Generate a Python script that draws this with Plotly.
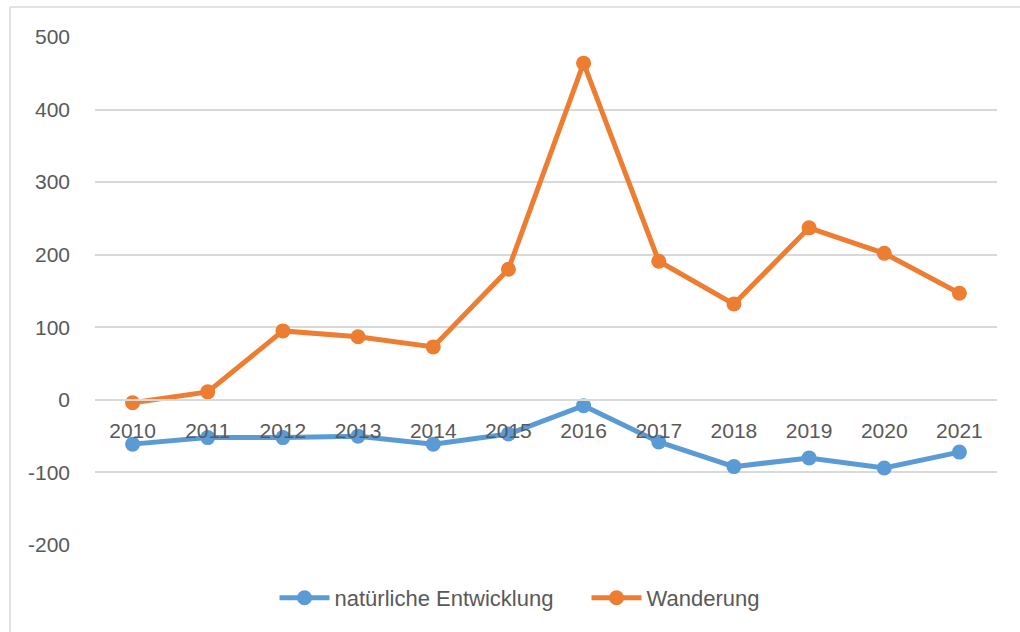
import plotly.graph_objects as go

years = ["2010", "2011", "2012", "2013", "2014", "2015", "2016", "2017", "2018", "2019", "2020", "2021"]
natuerlich = [-61, -52, -52, -50, -61, -47, -8, -58, -92, -80, -94, -72]
wanderung = [-4, 11, 95, 87, 73, 180, 464, 191, 132, 237, 202, 147]
y_ticks = [-200, -100, 0, 100, 200, 300, 400, 500]
y_ticktext = ["-200", "-100", "0", "100", "200", "300", "400", "500"]

W, H = 1020, 632
ml, mr, mt, mb = 95, 23, 37, 87
pw, ph = W - ml - mr, H - mt - mb
ymin, ymax = -200, 500

FONT = "Liberation Sans, Arial, sans-serif"
TXT = "#595959"

fig = go.Figure()
fig.add_trace(go.Scatter(x=years, y=natuerlich, name="natürliche Entwicklung", mode="lines+markers",
                         line=dict(color="#5B9BD5", width=5), marker=dict(size=15, color="#5B9BD5")))
fig.add_trace(go.Scatter(x=years, y=wanderung, name="Wanderung", mode="lines+markers",
                         line=dict(color="#ED7D31", width=5), marker=dict(size=15, color="#ED7D31")))

fig.update_layout(
    width=W, height=H,
    margin=dict(l=ml, r=mr, t=mt, b=mb, autoexpand=False),
    paper_bgcolor="white", plot_bgcolor="white",
    font=dict(family=FONT, size=21, color=TXT),
    xaxis=dict(type="category", anchor="free", position=(0 - ymin) / (ymax - ymin),
               showgrid=False, showline=True, linecolor="#d9d9d9", linewidth=1.5,
               ticks="", ticklabelstandoff=12, tickfont=dict(family=FONT, size=21, color=TXT),
               range=[-0.5, len(years) - 0.5], zeroline=False, automargin=False),
    yaxis=dict(range=[ymin, ymax], tickvals=y_ticks, ticktext=y_ticktext, showgrid=True,
               gridcolor="#d9d9d9", gridwidth=1.5,
               zeroline=False, showline=False, ticks="", ticklabelstandoff=24, automargin=False,
               tickfont=dict(family=FONT, size=21, color=TXT)),
    legend=dict(orientation="h", xref="container", x=0.575, xanchor="center",
                yref="container", y=(H - 598) / H, yanchor="middle",
                font=dict(family=FONT, size=22, color=TXT), itemwidth=50,
                entrywidth=247, entrywidthmode="pixels"),
    showlegend=True,
)

# chart frame (left and top border)
fx0 = (10 - ml) / pw
fy1 = 1 + (mt - 7) / ph
fig.add_shape(type="line", xref="paper", yref="paper", x0=fx0, x1=fx0, y0=-1, y1=fy1,
              line=dict(color="#d9d9d9", width=1.5))
fig.add_shape(type="line", xref="paper", yref="paper", x0=fx0, x1=1.2, y0=fy1, y1=fy1,
              line=dict(color="#d9d9d9", width=1.5))

fig.write_html("out.html", config={"displayModeBar": False},
               post_script="document.body.style.margin='0';")
